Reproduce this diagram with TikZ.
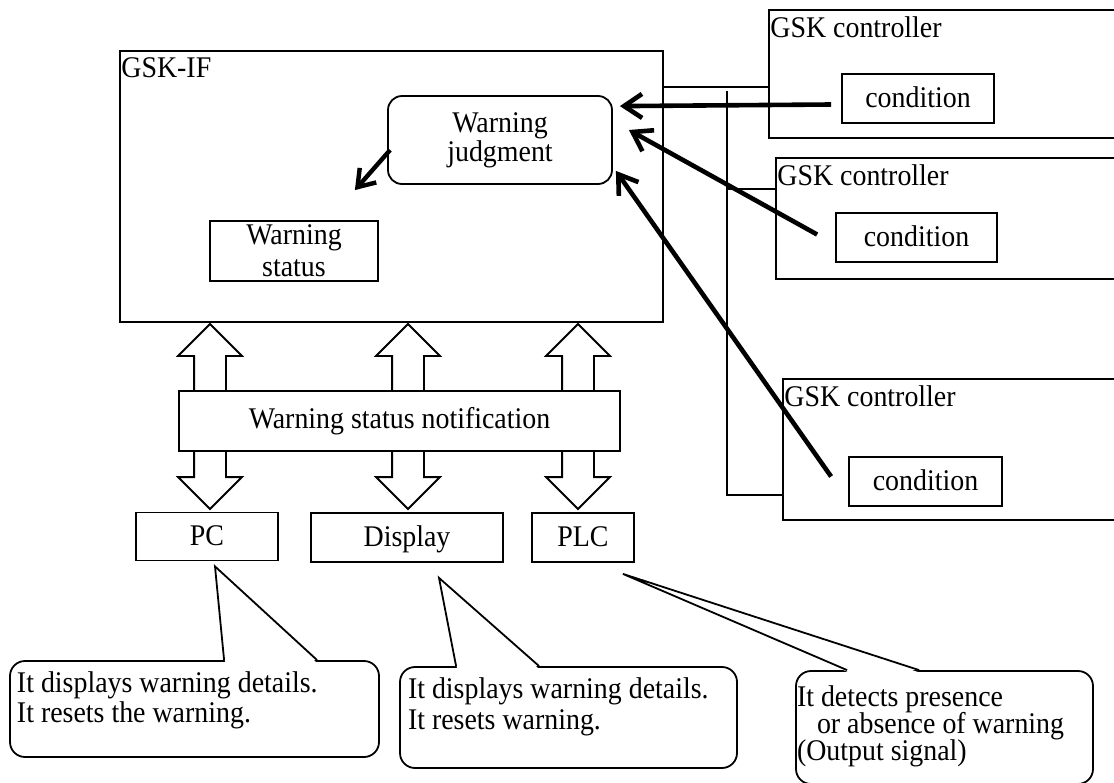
\documentclass[tikz,border=0pt]{standalone}
\usepackage{fontspec}
\setmainfont{Liberation Serif}[FakeStretch=0.93]
\usetikzlibrary{calc,positioning,shapes.arrows,arrows.meta}
\tikzset{
  box/.style={draw, line width=0.9pt, fill=white, inner sep=0pt},
  term/.style={box, text height=11pt, text depth=2pt},
  judgebox/.style={box, rounded corners=7pt, align=center},
  notebox/.style={box, rounded corners=7.5pt},
  caption/.style={inner sep=0pt, anchor=base west},
  wire/.style={line width=0.9pt},
  feed/.style={line width=2.3pt, -{Straight Barb[length=9pt,width=12pt]}},
  bigarrow/.style={draw, line width=0.9pt, fill=white, shape=double arrow,
                   rotate=90, double arrow tip angle=90,
                   double arrow head extend=8pt, minimum width=31pt,
                   minimum height=92.5pt, inner xsep=0pt, inner ysep=7.5pt},
}
\newcommand{\notetext}[3]{\begin{minipage}[c][#2][t]{#1}\lineskiplimit=-\maxdimen#3\end{minipage}}

\begin{document}
\begin{tikzpicture}[x=0.5pt, y=-0.5pt, font=\fontsize{15pt}{15pt}\selectfont]
\useasboundingbox (0,0) rectangle (1114,782);
\clip (0,0) rectangle (1114,782);
% interface unit with its two blocks
\node[box, minimum width=271.5pt, minimum height=135.5pt] (gskif) at (391.5,186.5) {};
\node[caption] (gskiflabel) at (121,77) {GSK-IF};
\node[judgebox, minimum width=112pt, minimum height=44pt,
      font=\fontsize{15pt}{14.5pt}\selectfont] (judge) at (500,140) {Warning\\judgment};
\node[box, minimum width=84pt, minimum height=30pt, align=center,
      font=\fontsize{15pt}{16pt}\selectfont] (status) at (294,251) {Warning\\status};
\draw[line width=2.2pt, -{Straight Barb[length=8pt,width=11pt]}]
  ($(judge.west)+(3,10)$) -- ($(status.north east)+(-24,-30)$);
% controllers, cut off at the right edge
\foreach \n/\cx/\cy/\w/\h in {1/949.5/74/180.5/64, 2/953/218.5/177/60.5, 3/956.5/449.5/173.5/70.5}
  \node[box, minimum width={\w pt}, minimum height={\h pt}] (gsk\n) at (\cx,\cy) {};
\foreach \n/\lx/\ly in {1/770/37, 2/777/185, 3/784/406}
  \node[caption] (gsklabel\n) at (\lx,\ly) {GSK controller};
\node[term, minimum width=76pt, minimum height=24.5pt] (cond1) at (918,98.5) {condition};
\node[term, minimum width=80.5pt, minimum height=24.5pt] (cond2) at (916.5,237.5) {condition};
\node[term, minimum width=76.5pt, minimum height=24.5pt] (cond3) at (925.5,481.5) {condition};
% bus lines
\coordinate (tap0) at (663,87);
\coordinate (busT) at (727,91);
\coordinate (tap2) at (727,189);
\coordinate (busB) at (727,495);
\draw[wire] (tap0) -- (tap0 -| gsk1.west);
\draw[wire] (busT) -- (busB) -- (busB -| gsk3.west);
\draw[wire] (tap2) -- (tap2 -| gsk2.west);
% conditions reported to the judgment
\draw[feed] ($(cond1.west)+(-10,6)$) -- ($(judge.north east)+(7,11)$);
\draw[feed] ($(cond2.west)+(-18,-3)$) -- ($(judge.east)+(16,-10)$);
\draw[feed] ($(cond3.west)+(-17,-5)$) -- ($(judge.south east)+(3,-14)$);
% notification to the terminals
\foreach \n/\ax in {1/210, 2/408, 3/578}
  \node[bigarrow] (link\n) at (\ax,416.5) {};
\node[box, minimum width=220.5pt, minimum height=30pt] (notif) at (399.5,421) {Warning status notification};
\node[term, minimum width=71pt, minimum height=24pt] (pc) at (207,536.5) {PC};
\node[term, minimum width=96pt, minimum height=24.5pt] (disp) at (407,537.5) {Display};
\node[term, minimum width=51pt, minimum height=24.5pt] (plc) at (583,537.5) {PLC};
% callouts
\node[notebox, inner xsep=3.5pt, inner ysep=5.25pt] (pcnote) at (194.5,709)
  {\notetext{177.5pt}{37.5pt}{It displays warning details.\\It resets the warning.}};
\node[notebox, inner xsep=4pt, inner ysep=5.25pt, font=\fontsize{15pt}{15.75pt}\selectfont] (dispnote) at (568.5,717.5)
  {\notetext{160.5pt}{40pt}{It displays warning details.\\It resets warning.}};
\node[notebox, inner xsep=0.5pt, inner ysep=7.25pt, font=\fontsize{15pt}{13.5pt}\selectfont] (plcnote) at (944.5,727.5)
  {\notetext{147.5pt}{42pt}{It detects presence\\\hspace*{10pt}or absence of warning\\(Output signal)}};
\fill[white] ($(pcnote.north west)+(216,2)$) -- ($(pc.south)+(8,5)$) -- ($(pcnote.north west)+(307,2)$) -- cycle;
\draw[wire] ($(pcnote.north west)+(215,0)$) -- ($(pc.south)+(8,5)$) -- ($(pcnote.north west)+(308,0)$);
\fill[white] ($(dispnote.north west)+(58,2)$) -- ($(disp.south)+(32,15)$) -- ($(dispnote.north west)+(139,2)$) -- cycle;
\draw[wire] ($(dispnote.north west)+(57,0)$) -- ($(disp.south)+(32,15)$) -- ($(dispnote.north west)+(140,0)$);
\fill[white] ($(plcnote.north west)+(53,2)$) -- ($(plc.south east)+(-12,11)$) -- ($(plcnote.north west)+(123,2)$) -- cycle;
\draw[wire] ($(plcnote.north west)+(52,0)$) -- ($(plc.south east)+(-12,11)$) -- ($(plcnote.north west)+(124,0)$);
\end{tikzpicture}
\end{document}
